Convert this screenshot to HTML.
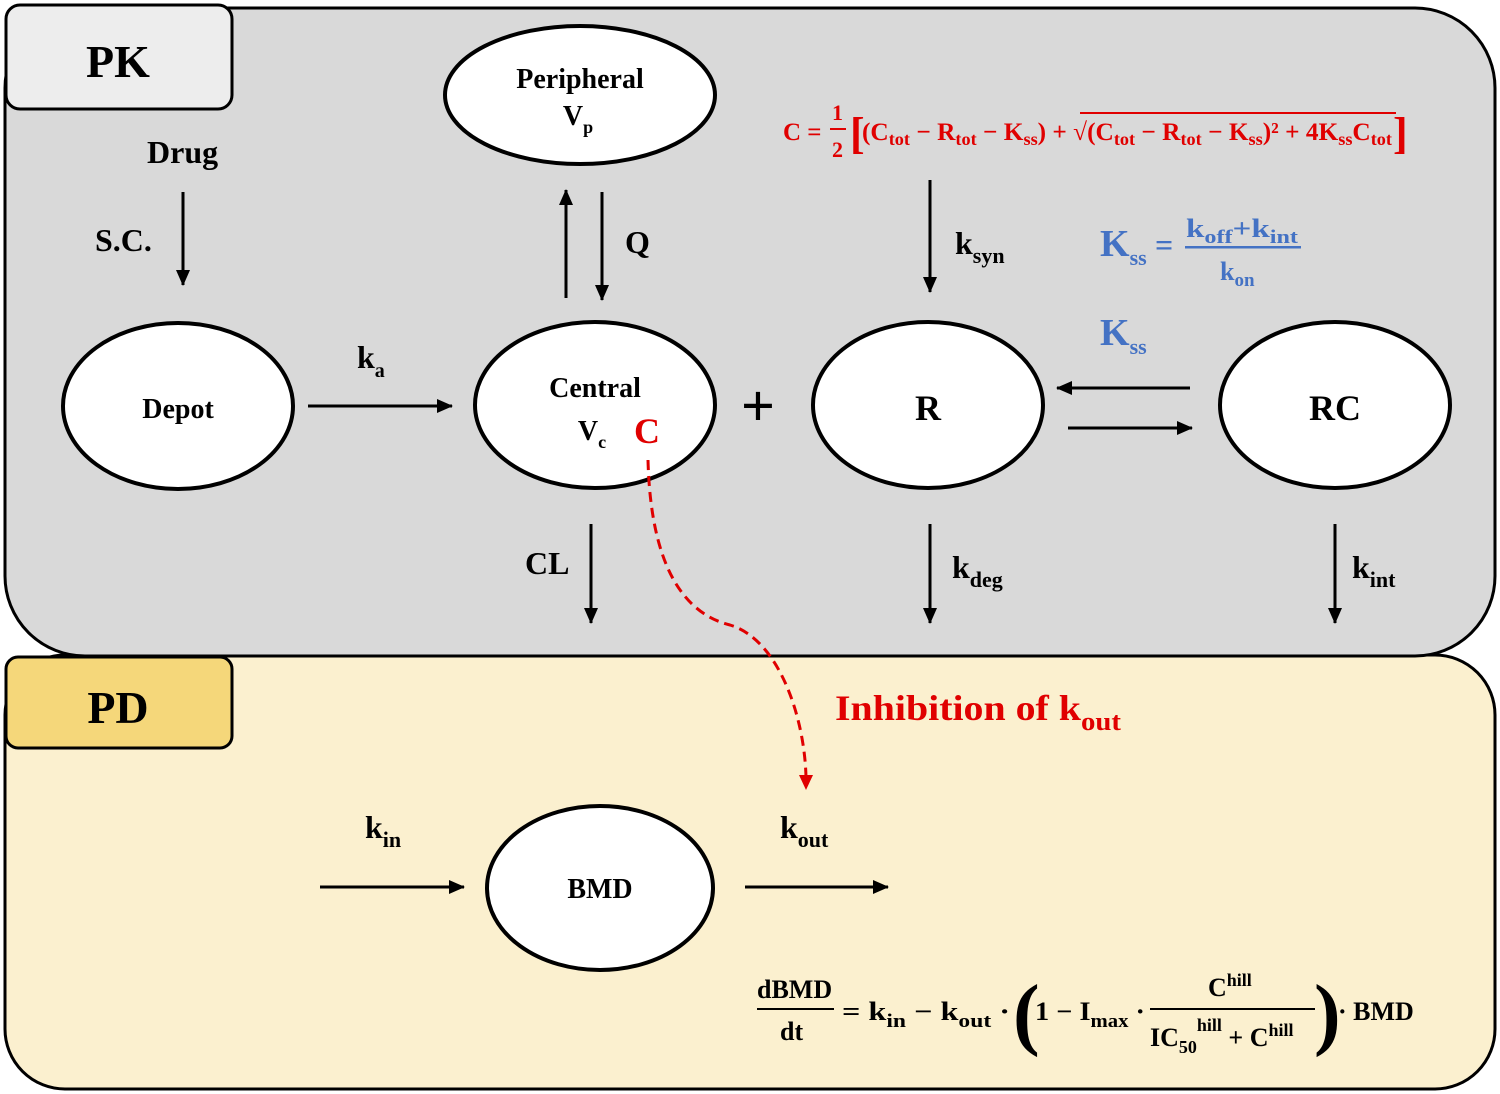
<!DOCTYPE html>
<html><head><meta charset="utf-8"><style>
html,body{margin:0;padding:0;background:#fff;}
svg{display:block;}
text{font-family:"Liberation Serif",serif;font-weight:bold;}
</style></head><body>
<svg width="1500" height="1094" viewBox="0 0 1500 1094" xmlns="http://www.w3.org/2000/svg">
<defs>
<marker id="ah" markerWidth="16" markerHeight="14" refX="15" refY="7" orient="auto" markerUnits="userSpaceOnUse"><path d="M0,0 L16,7 L0,14 z" fill="#000"/></marker>
</defs>
<rect x="5" y="655" width="1490" height="434" rx="60" fill="#fbf0cf" stroke="#000" stroke-width="3"/>
<rect x="5" y="8" width="1490" height="648" rx="80" fill="#d9d9d9" stroke="#000" stroke-width="3"/>
<rect x="6" y="5" width="226" height="104" rx="14" fill="#ededed" stroke="#000" stroke-width="3"/>
<text x="118" y="77" font-size="46" text-anchor="middle">PK</text>
<rect x="6" y="657" width="226" height="91" rx="12" fill="#f5d77a" stroke="#000" stroke-width="3"/>
<text x="118" y="723" font-size="46" text-anchor="middle">PD</text>

<g fill="#fff" stroke="#000" stroke-width="4">
<ellipse cx="580" cy="95" rx="135" ry="69"/>
<ellipse cx="178" cy="406" rx="115" ry="83"/>
<ellipse cx="595" cy="405" rx="120" ry="83"/>
<ellipse cx="928" cy="405" rx="115" ry="83"/>
<ellipse cx="1335" cy="405" rx="115" ry="83"/>
<ellipse cx="600" cy="888" rx="113" ry="82"/>
</g>
<g font-size="28" text-anchor="middle">
<text x="580" y="88">Peripheral</text>
<text x="578" y="125">V<tspan font-size="18" dy="8">p</tspan></text>
<text x="178" y="418">Depot</text>
<text x="595" y="397">Central</text>
<text x="592" y="440">V<tspan font-size="18" dy="8">c</tspan></text>
<text x="928" y="420" font-size="36">R</text>
<text x="1335" y="420" font-size="36">RC</text>
<text x="600" y="898">BMD</text>
</g>
<text x="634" y="443" font-size="36" fill="#e00000" font-weight="normal" font-family="Liberation Sans,sans-serif">C</text>

<g stroke="#000" stroke-width="3" marker-end="url(#ah)">
<line x1="183" y1="192" x2="183" y2="285"/>
<line x1="308" y1="406" x2="452" y2="406"/>
<line x1="566" y1="298" x2="566" y2="190"/>
<line x1="602" y1="192" x2="602" y2="300"/>
<line x1="930" y1="180" x2="930" y2="292"/>
<line x1="1190" y1="388" x2="1057" y2="388"/>
<line x1="1068" y1="428" x2="1192" y2="428"/>
<line x1="591" y1="524" x2="591" y2="623"/>
<line x1="930" y1="524" x2="930" y2="623"/>
<line x1="1335" y1="524" x2="1335" y2="623"/>
<line x1="320" y1="887" x2="464" y2="887"/>
<line x1="745" y1="887" x2="888" y2="887"/>
</g>
<path d="M648,460 C650,540 670,610 730,625 C780,640 805,720 806,778" fill="none" stroke="#e00000" stroke-width="3" stroke-dasharray="10,6"/>
<path d="M799,775 L813,775 L806,790 z" fill="#e00000"/>

<text x="758" y="426" font-size="60" text-anchor="middle">+</text>

<g font-size="32">
<text x="147" y="163">Drug</text>
<text x="95" y="251">S.C.</text>
<text x="625" y="253">Q</text>
<text x="357" y="368">k<tspan font-size="20" dy="9">a</tspan></text>
<text x="955" y="254">k<tspan font-size="22" dy="9">syn</tspan></text>
<text x="525" y="574">CL</text>
<text x="952" y="578">k<tspan font-size="22" dy="9">deg</tspan></text>
<text x="1352" y="578">k<tspan font-size="22" dy="9">int</tspan></text>
<text x="365" y="838">k<tspan font-size="22" dy="9">in</tspan></text>
<text x="780" y="838">k<tspan font-size="22" dy="9">out</tspan></text>
</g>
<text x="835" y="720" font-size="36" fill="#e00000" textLength="286" lengthAdjust="spacingAndGlyphs">Inhibition of k<tspan font-size="26" dy="10">out</tspan></text>

<g fill="#4472c4">
<text x="1100" y="256" font-size="38">K<tspan font-size="22" dy="9">ss</tspan></text>
<text x="1155" y="256" font-size="32">=</text>
<text x="1186" y="237" font-size="26" textLength="112" lengthAdjust="spacingAndGlyphs">k<tspan font-size="19" dy="6">off</tspan><tspan dy="-6">+k</tspan><tspan font-size="19" dy="6">int</tspan></text>
<rect x="1185" y="246" width="116" height="2.5"/>
<text x="1220" y="280" font-size="26">k<tspan font-size="19" dy="6">on</tspan></text>
<text x="1100" y="345" font-size="38">K<tspan font-size="22" dy="9">ss</tspan></text>
</g>
<g fill="#e00000" font-size="25">
<text x="783" y="140">C =</text>
<text x="832" y="120" font-size="22">1</text>
<rect x="830" y="128" width="16" height="2"/>
<text x="832" y="157" font-size="22">2</text>
<text x="850" y="148" font-size="44" font-weight="normal">[</text>
<text x="862" y="140" textLength="530" lengthAdjust="spacingAndGlyphs">(C<tspan font-size="18" dy="5">tot</tspan><tspan dy="-5"> − R</tspan><tspan font-size="18" dy="5">tot</tspan><tspan dy="-5"> − K</tspan><tspan font-size="18" dy="5">ss</tspan><tspan dy="-5">) + √(C</tspan><tspan font-size="18" dy="5">tot</tspan><tspan dy="-5"> − R</tspan><tspan font-size="18" dy="5">tot</tspan><tspan dy="-5"> − K</tspan><tspan font-size="18" dy="5">ss</tspan><tspan dy="-5">)² + 4K</tspan><tspan font-size="18" dy="5">ss</tspan><tspan dy="-5">C</tspan><tspan font-size="18" dy="5">tot</tspan></text>
<rect x="1080" y="112" width="316" height="2"/>
<text x="1393" y="148" font-size="44" font-weight="normal">]</text>
</g>
<g font-size="26" fill="#000">
<text x="757" y="998">dBMD</text>
<rect x="757" y="1008" width="77" height="2"/>
<text x="780" y="1040">dt</text>
<text x="842" y="1020" textLength="168" lengthAdjust="spacingAndGlyphs">=  k<tspan font-size="19" dy="7">in</tspan><tspan dy="-7"> −  k</tspan><tspan font-size="19" dy="7">out</tspan><tspan dy="-7"> ·</tspan></text>
<text x="1013" y="1040" font-size="80" font-weight="normal">(</text>
<text x="1035" y="1020" textLength="110" lengthAdjust="spacingAndGlyphs">1 − I<tspan font-size="19" dy="7">max</tspan><tspan dy="-7"> ·</tspan></text>
<text x="1208" y="996">C<tspan font-size="18" dy="-10">hill</tspan></text>
<rect x="1150" y="1008" width="165" height="2"/>
<text x="1150" y="1046">IC<tspan font-size="18" dy="7">50</tspan><tspan font-size="18" dy="-22">hill</tspan><tspan dy="15"> + C</tspan><tspan font-size="18" dy="-10">hill</tspan></text>
<text x="1314" y="1040" font-size="80" font-weight="normal">)</text>
<text x="1338" y="1020">· BMD</text>
</g>
</svg>
</body></html>
